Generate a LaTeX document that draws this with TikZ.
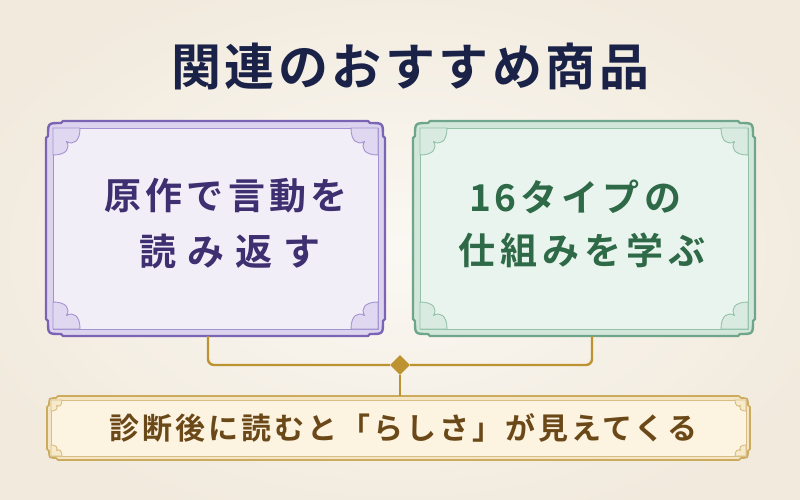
\documentclass[tikz,border=0pt]{standalone}
\usepackage{fontspec}
\usetikzlibrary{calc,shapes.geometric}
\newfontfamily\jp{Noto Sans CJK JP}[BoldFont={Noto Sans CJK JP Bold}]
\definecolor{bgA}{HTML}{FBF8F3}
\definecolor{bgB}{HTML}{F1EADD}
\definecolor{pout}{HTML}{7B64B4}
\definecolor{pfr}{HTML}{DCD3EE}
\definecolor{pin}{HTML}{A392CF}
\definecolor{ppan}{HTML}{F2EEF8}
\definecolor{porn}{HTML}{E0D8F0}
\definecolor{ptxt}{HTML}{3E3070}
\definecolor{gout}{HTML}{6FA58A}
\definecolor{gfr}{HTML}{D2E7DA}
\definecolor{gin}{HTML}{92C1A8}
\definecolor{gpan}{HTML}{EAF4EE}
\definecolor{gorn}{HTML}{D9EBE0}
\definecolor{gtxt}{HTML}{2E6A47}
\definecolor{yout}{HTML}{CCAA5E}
\definecolor{yfr}{HTML}{F4E6C4}
\definecolor{yin}{HTML}{D8BD84}
\definecolor{ypan}{HTML}{FCF3E0}
\definecolor{yorn}{HTML}{F6EACB}
\definecolor{ytxt}{HTML}{6B4818}
\definecolor{conn}{HTML}{BD9331}
\definecolor{ttl}{HTML}{1B2248}
% #1 x1, #2 y1, #3 x2, #4 y2, #5 prefix, #6 corner, #7 inset, #8 ornament size, #9 outer line width
\newcommand\fframe[9]{%
 \path[fill=#5fr, draw=#5out, line width=#9, line join=round]
   ({#1+#6},#2) -- ({#3-#6},#2) -- ({#3-#6+2},{#2+2}) .. controls ({#3-2},{#2+2}) .. ({#3-2},{#2+#6-2}) -- (#3,{#2+#6})
   -- (#3,{#4-#6}) -- ({#3-2},{#4-#6+2}) .. controls ({#3-2},{#4-2}) .. ({#3-#6+2},{#4-2}) -- ({#3-#6},#4)
   -- ({#1+#6},#4) -- ({#1+#6-2},{#4-2}) .. controls ({#1+2},{#4-2}) .. ({#1+2},{#4-#6+2}) -- (#1,{#4-#6})
   -- (#1,{#2+#6}) -- ({#1+2},{#2+#6-2}) .. controls ({#1+2},{#2+2}) .. ({#1+#6-2},{#2+2}) -- cycle;
 \path[fill=#5pan, draw=#5in, line width=0.9] ({#1+#7},{#2+#7}) rectangle ({#3-#7},{#4-#7});
 \foreach \sx/\sy/\ax/\ay in {1/1/{#1+#7}/{#2+#7}, -1/1/{#3-#7}/{#2+#7}, 1/-1/{#1+#7}/{#4-#7}, -1/-1/{#3-#7}/{#4-#7}}{%
  \begin{scope}[shift={(\ax,\ay)}, xscale=\sx, yscale=\sy]
   \path[fill=#5orn, draw=#5in, line width=0.9, line join=round]
     (0,0) -- (#8,0) .. controls (#8,{0.5*#8}) and ({0.75*#8},{0.65*#8}) .. ({0.5*#8},{0.5*#8})
     .. controls ({0.65*#8},{0.75*#8}) and ({0.5*#8},#8) .. (0,#8) -- cycle;
  \end{scope}}%
}
\tikzset{
 ttlstyle/.style={text=ttl, font=\jp\bfseries\fontsize{50}{56}\selectfont\addfontfeatures{LetterSpace=7}, inner sep=0},
 ptext/.style={text=ptxt, inner sep=0},
 gtext/.style={text=gtxt, inner sep=0},
 ytext/.style={text=ytxt, inner sep=0},
 boxnode/.style={inner sep=0, minimum width=#1},
 link/.style={draw=conn, line width=2.4, rounded corners=6},
 gem/.style={diamond, fill=conn, inner sep=0, minimum width=20, minimum height=20}
}
\begin{document}
\begin{tikzpicture}[x=1pt,y=-1pt]
\useasboundingbox (0,0) rectangle (800,500);
\shade[inner color=bgA, outer color=bgB] (-60,-40) rectangle (860,540);

% frames
\fframe{46}{121}{385}{336}{p}{17}{7}{27}{2.4}
\fframe{413}{121}{755}{336}{g}{17}{7}{27}{2.4}
\fframe{47}{396}{750}{460}{y}{11}{4}{11}{1.6}

% named box nodes
\node[boxnode=339, minimum height=215] (lbox) at (215.5,228.5) {};
\node[boxnode=342, minimum height=215] (rbox) at (584,228.5) {};
\node[boxnode=703, minimum height=64] (bbox) at (398.5,428) {};

% title
\node[ttlstyle] (title) at (410,67) {関連のおすすめ商品};

% left texts
\node[ptext, font=\jp\bfseries\fontsize{37}{40}\selectfont\addfontfeatures{LetterSpace=11}] (l1) at (226,196) {原作で言動を};
\node[ptext, font=\jp\bfseries\fontsize{37}{40}\selectfont\addfontfeatures{LetterSpace=30}] (l2) at (230,251) {読み返す};

% right texts
\node[gtext, font=\jp\bfseries\fontsize{37}{40}\selectfont\addfontfeatures{LetterSpace=11}] (r1) at (575,197) {16タイプの};
\node[gtext, font=\jp\bfseries\fontsize{37}{40}\selectfont\addfontfeatures{LetterSpace=13}] (r2) at (582,250) {仕組みを学ぶ};

% bottom text
\node[ytext, font=\jp\bfseries\fontsize{30}{34}\selectfont\addfontfeatures{LetterSpace=10}] (b1) at (403,428) {診断後に読むと「らしさ」が見えてくる};

% connectors
\node[gem] (dia) at (400,365) {};
\draw[link] ([xshift=-7.5]lbox.south) |- (dia.west);
\draw[link] ([xshift=8]rbox.south) |- (dia.east);
\draw[draw=conn, line width=2.4] (dia.south) -- (dia.south |- bbox.north);
\end{tikzpicture}
\end{document}
